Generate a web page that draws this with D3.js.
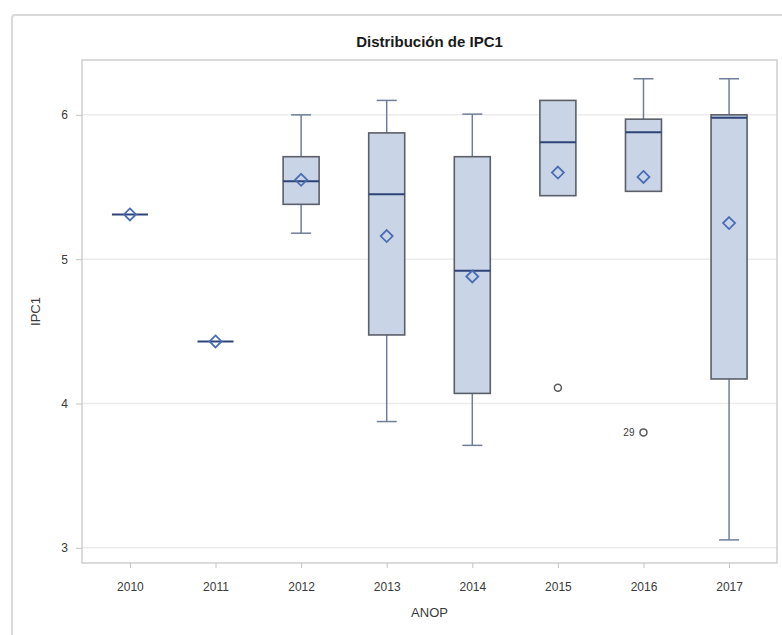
<!DOCTYPE html>
<html>
<head>
<meta charset="utf-8">
<script src="https://cdn.jsdelivr.net/npm/d3@7"></script>
<style>
  html, body { margin: 0; padding: 0; background: #fff; }
  svg { display: block; font-family: "Liberation Sans", Arial, sans-serif; }
</style>
</head>
<body>
<svg id="chart" width="782" height="635"></svg>
<script>
// Five-number summaries of IPC1 per year (ANOP)
const years       = ["2010", "2011", "2012", "2013", "2014", "2015", "2016", "2017"];
const whiskerLow  = [5.31, 4.43, 5.18, 3.875, 3.71, 5.44, 5.47, 3.055];
const q1          = [5.31, 4.43, 5.38, 4.475, 4.07, 5.44, 5.47, 4.17];
const medians     = [5.31, 4.43, 5.54, 5.45, 4.92, 5.81, 5.88, 5.98];
const q3          = [5.31, 4.43, 5.71, 5.875, 5.71, 6.10, 5.97, 6.00];
const whiskerHigh = [5.31, 4.43, 6.00, 6.10, 6.005, 6.10, 6.25, 6.25];
const means       = [5.31, 4.43, 5.55, 5.16, 4.88, 5.60, 5.57, 5.25];

// Outlying observations
const outlierYears  = ["2015", "2016"];
const outlierValues = [4.11, 3.80];
const outlierLabels = ["", "29"];

const yTicks = [3, 4, 5, 6];

const svg = d3.select("#chart");
const plot = { left: 82, right: 777, top: 60, bottom: 563 };

// Outer graph frame
svg.append("rect")
  .attr("x", 12).attr("y", 15)
  .attr("width", 790).attr("height", 640)
  .attr("rx", 3)
  .attr("fill", "#fff")
  .attr("stroke", "#d9d9d9")
  .attr("stroke-width", 2);

const x = d3.scalePoint()
  .domain(years)
  .range([plot.left, plot.right])
  .padding(0.56);

const y = d3.scaleLinear()
  .domain([2.895, 6.38])
  .range([plot.bottom, plot.top]);

// Horizontal reference lines
svg.append("g")
  .selectAll("line")
  .data(yTicks)
  .join("line")
  .attr("x1", plot.left).attr("x2", plot.right)
  .attr("y1", d => y(d)).attr("y2", d => y(d))
  .attr("stroke", "#ececec")
  .attr("stroke-width", 1.5);

// Plot wall
svg.append("rect")
  .attr("x", plot.left).attr("y", plot.top)
  .attr("width", plot.right - plot.left)
  .attr("height", plot.bottom - plot.top)
  .attr("fill", "none")
  .attr("stroke", "#c4c4c4")
  .attr("stroke-width", 1.2);

// Axes
const yAxis = svg.append("g")
  .attr("transform", `translate(${plot.left},0)`)
  .call(d3.axisLeft(y).tickValues(yTicks).tickSize(6).tickPadding(8).tickFormat(d3.format("d")));
const xAxis = svg.append("g")
  .attr("transform", `translate(0,${plot.bottom})`)
  .call(d3.axisBottom(x).tickSize(5).tickPadding(14));

[yAxis, xAxis].forEach(g => {
  g.select(".domain").remove();
  g.selectAll(".tick line").attr("stroke", "#c4c4c4");
  g.selectAll(".tick text")
    .attr("fill", "#3a3a3a")
    .style("font-size", "12px")
    .style("font-family", "'Liberation Sans', Arial, sans-serif");
});

// Title and axis labels
svg.append("text")
  .attr("x", (plot.left + plot.right) / 2).attr("y", 47)
  .attr("text-anchor", "middle")
  .attr("fill", "#1a1a1a")
  .style("font-size", "15px").style("font-weight", "bold")
  .text("Distribución de IPC1");

svg.append("text")
  .attr("x", (plot.left + plot.right) / 2).attr("y", 617)
  .attr("text-anchor", "middle")
  .attr("fill", "#3a3a3a")
  .style("font-size", "13px")
  .text("ANOP");

svg.append("text")
  .attr("transform", `translate(40,${(plot.top + plot.bottom) / 2}) rotate(-90)`)
  .attr("text-anchor", "middle")
  .attr("fill", "#3a3a3a")
  .style("font-size", "13px")
  .text("IPC1");

// Box plots
const boxW = 36, capW = 20;
const stats = years.map((yr, i) => ({
  yr, lo: whiskerLow[i], q1: q1[i], med: medians[i], q3: q3[i], hi: whiskerHigh[i], mean: means[i]
}));

const boxes = svg.append("g").selectAll("g")
  .data(stats)
  .join("g")
  .attr("transform", d => `translate(${x(d.yr)},0)`);

const whiskerColor = "#6f7f99";

// upper whiskers
boxes.filter(d => d.hi > d.q3).each(function (d) {
  const g = d3.select(this);
  g.append("line").attr("x1", 0).attr("x2", 0)
    .attr("y1", y(d.q3)).attr("y2", y(d.hi))
    .attr("stroke", whiskerColor).attr("stroke-width", 1.5);
  g.append("line").attr("x1", -capW / 2).attr("x2", capW / 2)
    .attr("y1", y(d.hi)).attr("y2", y(d.hi))
    .attr("stroke", whiskerColor).attr("stroke-width", 1.5);
});

// lower whiskers
boxes.filter(d => d.lo < d.q1).each(function (d) {
  const g = d3.select(this);
  g.append("line").attr("x1", 0).attr("x2", 0)
    .attr("y1", y(d.q1)).attr("y2", y(d.lo))
    .attr("stroke", whiskerColor).attr("stroke-width", 1.5);
  g.append("line").attr("x1", -capW / 2).attr("x2", capW / 2)
    .attr("y1", y(d.lo)).attr("y2", y(d.lo))
    .attr("stroke", whiskerColor).attr("stroke-width", 1.5);
});

// interquartile boxes
boxes.filter(d => d.q3 > d.q1)
  .append("rect")
  .attr("x", -boxW / 2)
  .attr("y", d => y(d.q3))
  .attr("width", boxW)
  .attr("height", d => y(d.q1) - y(d.q3))
  .attr("fill", "#c9d5e6")
  .attr("stroke", "#5a5f6a")
  .attr("stroke-width", 1.6);

// medians
boxes.append("line")
  .attr("x1", -boxW / 2).attr("x2", boxW / 2)
  .attr("y1", d => y(d.med)).attr("y2", d => y(d.med))
  .attr("stroke", "#2e4377")
  .attr("stroke-width", 2);

// means (diamonds)
boxes.append("path")
  .attr("transform", d => `translate(0,${y(d.mean)})`)
  .attr("d", "M0,-6L6,0L0,6L-6,0Z")
  .attr("fill", "none")
  .attr("stroke", "#4a6db5")
  .attr("stroke-width", 1.8);

// Outliers
const outs = outlierYears.map((yr, i) => ({ yr, v: outlierValues[i], label: outlierLabels[i] }));
const og = svg.append("g");
og.selectAll("circle")
  .data(outs)
  .join("circle")
  .attr("cx", d => x(d.yr))
  .attr("cy", d => y(d.v))
  .attr("r", 3.5)
  .attr("fill", "none")
  .attr("stroke", "#5a5a5a")
  .attr("stroke-width", 1.5);
og.selectAll("text")
  .data(outs.filter(d => d.label))
  .join("text")
  .attr("x", d => x(d.yr) - 9)
  .attr("y", d => y(d.v))
  .attr("dy", "0.35em")
  .attr("text-anchor", "end")
  .attr("fill", "#3a3a3a")
  .style("font-size", "10px")
  .text(d => d.label);
</script>
</body>
</html>
